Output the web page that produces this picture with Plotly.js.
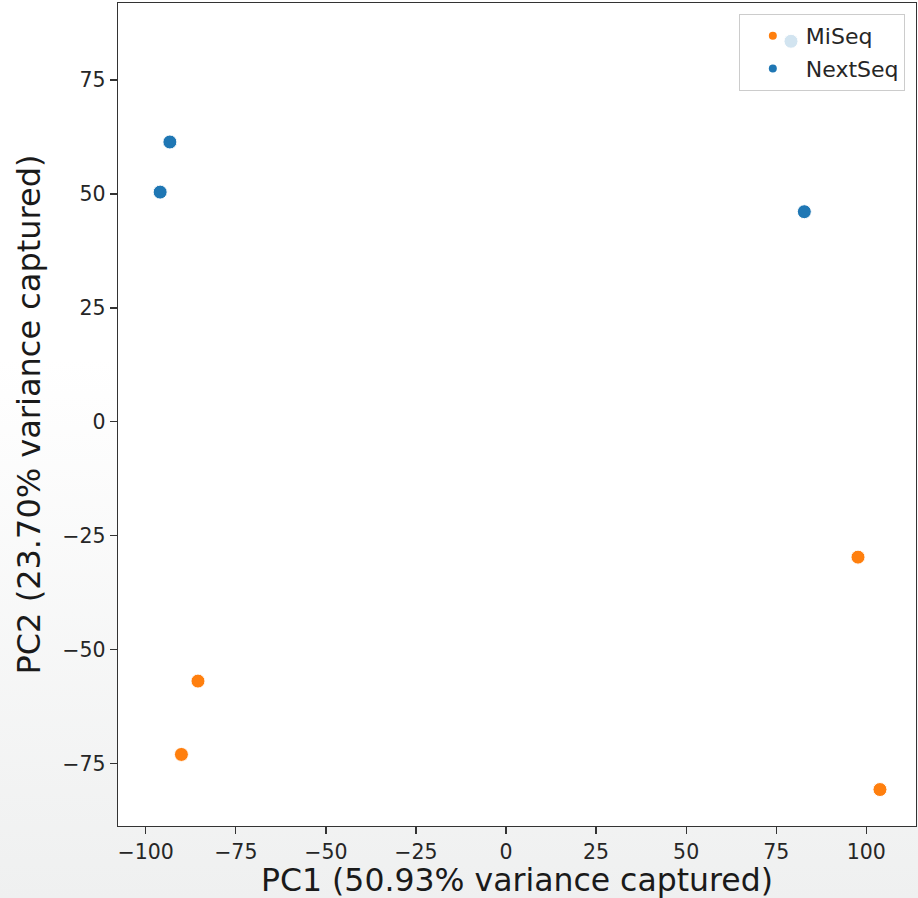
<!DOCTYPE html>
<html>
<head>
<meta charset="utf-8">
<script src="https://cdn.plot.ly/plotly-3.0.1.min.js"></script>
<style>
  html, body { margin: 0; padding: 0; }
  body { width: 918px; height: 898px; background: linear-gradient(to bottom, #ffffff 0%, #ffffff 40%, #eff0f0 100%); }
  #chart { width: 918px; height: 898px; }
</style>
</head>
<body>
<div id="chart"></div>
<script>
// Data
const groups = ["MiSeq", "NextSeq"];
const miseqPC1 = [97.7, -85.5, -90.1, 103.8];
const miseqPC2 = [-29.7, -56.9, -73.0, -80.7];
const nextseqPC1 = [-93.3, -96.0, 82.8, 79.1];
const nextseqPC2 = [61.4, 50.4, 46.1, 83.5];
const colors = ["#ff7f0e", "#1f77b4"];
const xTicks = [-100, -75, -50, -25, 0, 25, 50, 75, 100];
const yTicks = [-75, -50, -25, 0, 25, 50, 75];
const xTitle = "PC1 (50.93% variance captured)";
const yTitle = "PC2 (23.70% variance captured)";

const font = "DejaVu Sans, sans-serif";
const xs = [miseqPC1, nextseqPC1];
const ys = [miseqPC2, nextseqPC2];

const traces = [];
groups.forEach((g, i) => {
  traces.push({
    type: "scatter", mode: "markers", x: xs[i], y: ys[i], name: g,
    showlegend: false, hoverinfo: "skip",
    marker: { color: colors[i], size: 14, line: { color: "#ffffff", width: 1 } }
  });
});
groups.forEach((g, i) => {
  traces.push({
    type: "scatter", mode: "markers", x: [null], y: [null], name: g,
    legendgroup: g, showlegend: true,
    marker: { color: colors[i], size: 8 }
  });
});

const axisCommon = {
  showline: true, mirror: true, linecolor: "#333333", linewidth: 1.3,
  ticks: "outside", ticklen: 7, tickwidth: 1.3, tickcolor: "#333333",
  showgrid: false, zeroline: false,
  tickfont: { family: font, size: 20.5, color: "#262626" }
};

const layout = {
  width: 918, height: 898,
  margin: { l: 118, r: 2, t: 3, b: 72 },
  paper_bgcolor: "rgba(0,0,0,0)",
  plot_bgcolor: "#ffffff",
  showlegend: true,
  xaxis: Object.assign({}, axisCommon, {
    range: [-107.7, 113.8], tickvals: xTicks,
    title: { text: xTitle, font: { family: font, size: 31.5, color: "#1a1a1a" }, standoff: 9 }
  }),
  yaxis: Object.assign({}, axisCommon, {
    range: [-88.7, 91.9], tickvals: yTicks,
    title: { text: yTitle, font: { family: font, size: 32, color: "#1a1a1a" }, standoff: 12 }
  }),
  legend: {
    x: 0.986, y: 0.9866, xanchor: "right", yanchor: "top",
    bgcolor: "rgba(255,255,255,0.8)", bordercolor: "#cccccc", borderwidth: 1,
    font: { family: font, size: 22, color: "#262626" },
    itemwidth: 56,
    traceorder: "grouped", tracegroupgap: 1
  }
};

Plotly.newPlot("chart", traces, layout, { displayModeBar: false, staticPlot: true });
</script>
</body>
</html>
